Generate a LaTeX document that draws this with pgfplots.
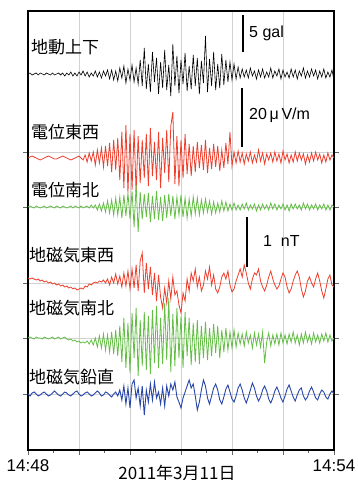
\documentclass[border=0pt]{standalone}
\usepackage{pgfplots}
\pgfplotsset{compat=1.18}
\usepackage{fontspec}
\setmainfont{Liberation Sans}
\newfontfamily\cjk{Noto Sans CJK JP}
\definecolor{tred}{RGB}{238,62,44}
\definecolor{tgreen}{RGB}{100,190,70}
\definecolor{tblue}{RGB}{40,70,170}
\begin{document}
\begin{tikzpicture}
\useasboundingbox (0,0) rectangle (357pt,480pt);
\begin{axis}[
  at={(28pt,30pt)}, anchor=south west,
  width=306pt, height=439pt, scale only axis,
  xmin=0, xmax=360, ymin=0, ymax=439,
  xtick={0,60,...,360}, minor xtick={30,90,...,330},
  xticklabels={14:48,,,,,,14:54},
  ytick={56,112,167,243,298}, yticklabels={},
  xtick pos=left, ytick pos=both,
  tick align=outside,
  major tick length=5pt, minor tick length=3pt,
  every tick/.style={black!60, line width=0.5pt},
  xmajorgrids, ymajorgrids,
  major grid style={black!18, line width=0.5pt},
  axis line style={line width=1.3pt},
  xticklabel style={font=\fontsize{17}{17}\selectfont, yshift=-1pt},
  clip=true,
]
\addplot[black, line width=0.6pt] table[header=false, row sep=\\, x expr=\coordindex*2.4, y expr=\thisrowno{0}+376] {0\\1\\-1\\0\\1\\-1\\1\\0\\-1\\1\\0\\-1\\1\\-1\\0\\1\\-1\\1\\-2\\1\\-1\\2\\-2\\1\\-2\\2\\-1\\3\\-2\\2\\-3\\1\\-2\\3\\-3\\2\\-4\\3\\-2\\4\\-5\\4\\-6\\3\\-7\\6\\-4\\8\\-9\\5\\-6\\9\\-8\\6\\-10\\14\\-12\\26\\-15\\10\\-18\\22\\-8\\16\\-20\\12\\-14\\24\\-16\\9\\-22\\30\\-12\\18\\-19\\14\\-10\\21\\-17\\8\\-15\\19\\-12\\16\\-20\\13\\-9\\38\\-18\\15\\-12\\22\\-16\\10\\-14\\20\\-11\\14\\-8\\12\\-6\\10\\-5\\7\\-4\\5\\-3\\4\\-4\\6\\-2\\3\\-5\\4\\-3\\5\\-4\\2\\-3\\6\\-4\\3\\-2\\5\\-5\\4\\-3\\2\\-4\\5\\-3\\4\\-5\\3\\-2\\6\\-4\\3\\-3\\5\\-2\\4\\-5\\3\\-3\\5\\-4\\2\\-3\\4\\-6\\};
\addplot[tred, line width=0.8pt] table[header=false, row sep=\\, x expr=\coordindex*2.4, y expr=\thisrowno{0}+292] {0\\1\\2\\1\\0\\-1\\-2\\-1\\0\\1\\2\\1\\0\\-1\\-1\\0\\1\\2\\1\\0\\-1\\-2\\-1\\0\\1\\2\\0\\-2\\3\\-4\\5\\-3\\6\\-7\\8\\-5\\10\\-9\\12\\-8\\15\\-14\\18\\-12\\20\\-22\\26\\-30\\33\\-35\\24\\-32\\28\\-34\\22\\-25\\18\\-20\\24\\-28\\30\\-18\\16\\-22\\26\\-30\\20\\-15\\28\\-24\\32\\46\\-26\\22\\-28\\18\\-20\\24\\-16\\14\\-18\\12\\-14\\16\\-10\\13\\-12\\18\\-15\\10\\-11\\14\\-9\\12\\-13\\8\\-10\\15\\-6\\26\\-8\\6\\-5\\7\\-4\\5\\-6\\4\\-3\\6\\-5\\3\\-4\\8\\-3\\5\\-6\\4\\-2\\5\\-4\\6\\-3\\4\\-5\\7\\-2\\4\\-5\\3\\-4\\6\\-3\\5\\-2\\4\\-6\\3\\-4\\5\\-3\\6\\-2\\4\\-5\\3\\-4\\5\\-2\\3\\0\\};
\addplot[tgreen, line width=0.8pt] table[header=false, row sep=\\, x expr=\coordindex*2.4, y expr=\thisrowno{0}+243] {0\\1\\0\\-1\\1\\0\\-1\\0\\1\\-1\\0\\1\\0\\-1\\1\\0\\-1\\1\\0\\-1\\0\\1\\-1\\1\\0\\-1\\1\\-1\\0\\1\\-1\\2\\-1\\2\\-3\\3\\-4\\4\\-5\\6\\-6\\7\\-8\\9\\-8\\10\\-11\\12\\-9\\14\\-12\\16\\-20\\22\\-25\\15\\-12\\13\\-10\\14\\-15\\11\\-12\\16\\-13\\10\\-14\\12\\-11\\13\\-9\\11\\-12\\10\\-8\\12\\-10\\9\\-11\\8\\-9\\10\\-7\\9\\-8\\7\\-6\\8\\-5\\6\\-7\\5\\-6\\4\\-5\\6\\-4\\5\\-4\\3\\-3\\4\\-3\\2\\-3\\3\\-2\\4\\-3\\2\\-2\\3\\-4\\2\\-3\\3\\-2\\2\\-3\\4\\-2\\3\\-3\\2\\-2\\3\\-3\\2\\-4\\3\\-2\\3\\-2\\2\\-3\\4\\-2\\3\\-3\\2\\-2\\3\\-3\\2\\-2\\3\\-3\\2\\-3\\2\\0\\};
\addplot[tred, line width=0.8pt] table[header=false, row sep=\\, x expr=\coordindex*2.4, y expr=\thisrowno{0}+167] {5\\4\\5\\4\\3\\4\\2\\3\\1\\2\\0\\1\\-1\\0\\-2\\-1\\-3\\-2\\-4\\-3\\-5\\-4\\-6\\-5\\-7\\-6\\-5\\-6\\-3\\-4\\-1\\-2\\0\\1\\0\\2\\1\\3\\0\\4\\-2\\6\\0\\9\\-1\\7\\-4\\10\\-3\\12\\-6\\14\\-5\\18\\-8\\22\\30\\-10\\20\\-6\\16\\-12\\10\\-18\\8\\-14\\-25\\-5\\-20\\2\\-16\\6\\-12\\-8\\-22\\-30\\-10\\-18\\4\\-8\\10\\2\\14\\-4\\6\\-8\\-2\\12\\4\\16\\-2\\8\\-6\\-10\\-4\\6\\10\\4\\12\\-2\\-9\\-6\\2\\8\\14\\6\\18\\10\\0\\-6\\4\\10\\8\\14\\2\\-4\\-8\\-2\\6\\12\\4\\-2\\-6\\-3\\4\\10\\6\\-4\\-10\\-6\\2\\8\\12\\6\\-6\\-14\\-8\\2\\6\\0\\-4\\4\\10\\2\\-8\\-15\\-6\\4\\8\\-2\\-4\\};
\addplot[tgreen, line width=0.8pt] table[header=false, row sep=\\, x expr=\coordindex*2.4, y expr=\thisrowno{0}+112] {0\\1\\0\\-1\\1\\0\\0\\-1\\1\\0\\-1\\0\\1\\-1\\0\\1\\-1\\0\\1\\-1\\-2\\-1\\-3\\-2\\-4\\-3\\-5\\-4\\-5\\-3\\-6\\-2\\-7\\0\\-9\\2\\-10\\4\\-12\\3\\-14\\6\\-16\\8\\-18\\12\\-24\\20\\-30\\15\\-35\\25\\-20\\30\\-38\\18\\-28\\26\\-32\\22\\-36\\28\\-25\\32\\-30\\20\\-26\\35\\-22\\40\\-34\\24\\-28\\30\\-20\\22\\-30\\26\\-18\\20\\-27\\15\\-24\\18\\-26\\12\\-20\\16\\-22\\10\\-18\\14\\-15\\12\\-20\\8\\-14\\10\\-12\\6\\-10\\8\\-9\\5\\-6\\4\\-8\\6\\-5\\3\\-10\\5\\-7\\4\\-9\\6\\-25\\-4\\5\\-8\\3\\-6\\4\\-7\\5\\-5\\3\\-6\\4\\-4\\6\\-5\\3\\-7\\4\\-5\\6\\-4\\3\\-6\\5\\-4\\3\\-5\\4\\-3\\5\\-4\\3\\-3\\0\\};
\addplot[tblue, line width=0.9pt] table[header=false, row sep=\\, x expr=\coordindex*2.4, y expr=\thisrowno{0}+56] {0\\-2\\1\\2\\0\\-2\\-1\\1\\2\\0\\-2\\-1\\1\\3\\1\\-1\\-2\\0\\2\\1\\-1\\-2\\0\\2\\3\\0\\-2\\-1\\1\\2\\0\\-2\\-1\\1\\3\\1\\-2\\-1\\2\\1\\-1\\-3\\0\\2\\-2\\4\\-6\\8\\-10\\6\\-14\\10\\14\\-4\\6\\-12\\8\\-21\\4\\-8\\10\\-6\\12\\-4\\2\\-10\\6\\-12\\8\\-2\\10\\4\\12\\-3\\-8\\-14\\-4\\2\\8\\14\\6\\10\\-2\\-16\\-8\\4\\14\\8\\-4\\-10\\-2\\6\\10\\4\\-6\\-10\\-3\\5\\9\\2\\-5\\-8\\-2\\6\\10\\4\\-4\\-9\\-3\\4\\11\\6\\-2\\-7\\-3\\4\\8\\3\\-5\\-9\\-4\\3\\7\\2\\-4\\-8\\-2\\5\\9\\3\\-3\\-7\\-1\\4\\6\\-2\\-6\\-3\\3\\7\\2\\-4\\-6\\0\\4\\2\\-3\\-5\\0\\3\\0\\};
\end{axis}
\begin{scope}[every node/.style={inner sep=0pt, anchor=west, font=\cjk\fontsize{17}{17}\selectfont}]
\node at (31pt,433pt) {地動上下};
\node at (31pt,348pt) {電位東西};
\node at (31pt,290pt) {電位南北};
\node at (29pt,225pt) {地磁気東西};
\node at (29pt,172pt) {地磁気南北};
\node at (29pt,103pt) {地磁気鉛直};
\end{scope}
\draw[line width=1.6pt] (243pt,465pt) -- (243pt,428pt);
\draw[line width=1.6pt] (242pt,392pt) -- (242pt,333pt);
\draw[line width=1.6pt] (247pt,263pt) -- (247pt,213pt);
\begin{scope}[every node/.style={inner sep=0pt, anchor=west, font=\fontsize{16}{16}\selectfont}]
\node at (249pt,447pt) {5 gal};
\node at (249pt,365pt) {20\,μ\,V/m};
\node at (263pt,239pt) {1\ \ nT};
\end{scope}
\node[inner sep=0pt, font=\cjk\fontsize{17}{17}\selectfont] at (177pt,7pt) {2011年3月11日};
\end{tikzpicture}
\end{document}
